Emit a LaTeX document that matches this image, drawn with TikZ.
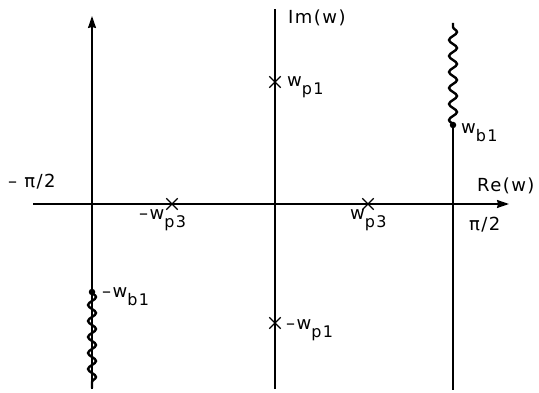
\documentclass[tikz,border=0pt]{standalone}
\usepackage{fontspec}
\setmainfont{DejaVu Sans}[LetterSpace=8]
\usetikzlibrary{arrows.meta,decorations.pathmorphing,shapes.misc}
\newcommand{\mysub}[1]{\raisebox{-8pt}{\fontsize{16}{16}\selectfont #1}}
\begin{document}
\begin{tikzpicture}[x=1pt,y=-1pt,
  axis/.style={line width=1.5pt},
  arr/.style={-{Stealth[length=12pt,width=8pt,inset=1pt]}},
  wavy/.style={line width=2.4pt,decorate,decoration={snake,segment length=16pt,amplitude=4pt}},
  cross/.style={draw,cross out,line width=1.3pt,minimum size=10pt,inner sep=0pt},
  bdot/.style={circle,fill,inner sep=0pt,minimum size=6.5pt},
  lab/.style={font=\fontsize{18}{18}\selectfont,inner sep=0pt,anchor=base west}]
\useasboundingbox (0,0) rectangle (539,393);
% coordinates
\coordinate (hl) at (33,204);
\coordinate (hr) at (509,204);
\coordinate (lt) at (92,16);
\coordinate (lb) at (92,389);
\coordinate (ct) at (275,9);
\coordinate (cb) at (275,389);
\coordinate (rt) at (453,23);
\coordinate (rb) at (453,390);
\coordinate (lwb) at (92,388);
% axes
\draw[axis,arr] (hl) -- (hr);
\draw[axis,arr] (lb) -- (lt);
\draw[axis] (cb) -- (ct);
\node[bdot] (wb) at (453,125) {};
\node[bdot] (mwb) at (92,292) {};
\draw[axis] (wb.center) -- (rb);
\draw[wavy] (wb.center) -- (rt);
\draw[wavy] (mwb.center) -- (lwb);
% crosses
\node[cross] (wp1) at (275,82) {};
\node[cross] (mwp1) at (275,323) {};
\node[cross] (wp3) at (368,204) {};
\node[cross] (mwp3) at (172,204) {};
% labels
\node[lab] (im) at (288,24) {Im(w)};
\node[lab] (re) at (477,192) {Re(w)};
\node[lab] (pi) at (469,231) {π/2};
\node[lab] (mpi) at (8,188) {– π/2};
\node[lab] (lwp1) at (287,87) {w\mysub{p1}};
\node[lab] (lmwp1) at (286,330) {–w\mysub{p1}};
\node[lab] (lwb) at (461,134) {w\mysub{b1}};
\node[lab] (lmwb) at (102,298) {–w\mysub{b1}};
\node[lab] (lwp3) at (350,220) {w\mysub{p3}};
\node[lab] (lmwp3) at (139,220) {–w\mysub{p3}};
\end{tikzpicture}
\end{document}
